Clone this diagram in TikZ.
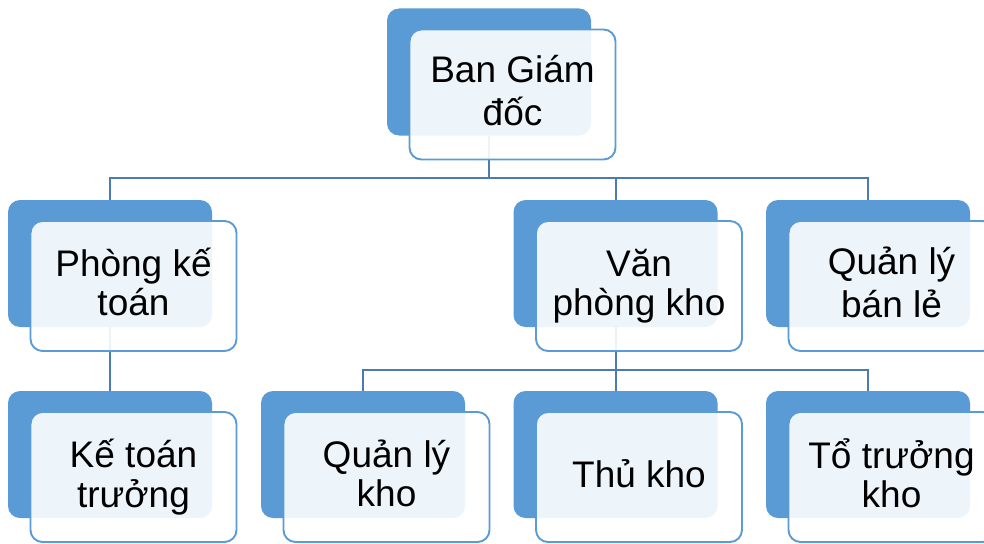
\documentclass[tikz,border=0pt]{standalone}
\usepackage{fontspec}
\setmainfont{Liberation Sans}
\definecolor{backblue}{HTML}{5B9BD5}
\definecolor{frontline}{HTML}{5B9BD5}
\definecolor{connblue}{HTML}{4A7CB3}
\newcommand{\boxfont}{\fontsize{37}{39}\selectfont}
\newcommand{\ml}[1]{\raisebox{-2pt}[\height][\depth]{\begin{tabular}{@{}c@{}}#1\end{tabular}}}
\tikzset{
  backbox/.style={draw=none, fill=backblue, rounded corners=12pt,
    minimum width=204pt, minimum height=127pt, inner sep=0pt},
  frontbox/.style={draw=frontline, line width=1.9pt, fill=white, fill opacity=0.9,
    text opacity=1, rounded corners=12pt, minimum width=206pt, minimum height=130pt,
    inner sep=0pt, font=\boxfont},
  conn/.style={draw=connblue, line width=2pt}
}
\begin{document}
\begin{tikzpicture}[x=1pt,y=-1pt]
\useasboundingbox[fill=white] (0,0) rectangle (984,543);
% back boxes
\node[backbox] (top) at (489,72) {};
\node[backbox] (pk) at (110,263.5) {};
\node[backbox] (vp) at (615.5,263.5) {};
\node[backbox] (ql) at (868,263.5) {};
\node[backbox] (kt) at (110,454.5) {};
\node[backbox] (qk) at (363,454.5) {};
\node[backbox] (tk) at (615.5,454.5) {};
\node[backbox] (tt) at (868,454.5) {};
% connectors
\coordinate (bus1) at (489,178);
\coordinate (bus2) at (615.5,370);
\draw[conn] (top.south) -- (bus1);
\draw[conn] (pk.north) |- (bus1) -| (ql.north);
\draw[conn] (bus1) -| (vp.north);
\draw[conn] (pk.south) -- (kt.north);
\draw[conn] (vp.south) -- (bus2);
\draw[conn] (qk.north) |- (bus2) -| (tt.north);
\draw[conn] (bus2) -- (tk.north);
% front boxes
\node[frontbox] (topF) at (512.5,94.5) {\ml{Ban Giám\\[3pt]đốc}};
\node[frontbox] (pkF) at (133.5,286) {\ml{Phòng kế\\toán}};
\node[frontbox] (vpF) at (639,286) {\ml{Văn\\phòng kho}};
\node[frontbox] (qlF) at (891.5,286) {\ml{Quản lý\\[3pt]bán lẻ}};
\node[frontbox] (ktF) at (133.5,477) {\ml{Kế toán\\trưởng}};
\node[frontbox] (qkF) at (386.5,477) {\ml{Quản lý\\kho}};
\node[frontbox] (tkF) at (639,477) {\ml{Thủ kho}};
\node[frontbox] (ttF) at (891.5,477) {\ml{Tổ trưởng\\kho}};
\end{tikzpicture}
\end{document}
